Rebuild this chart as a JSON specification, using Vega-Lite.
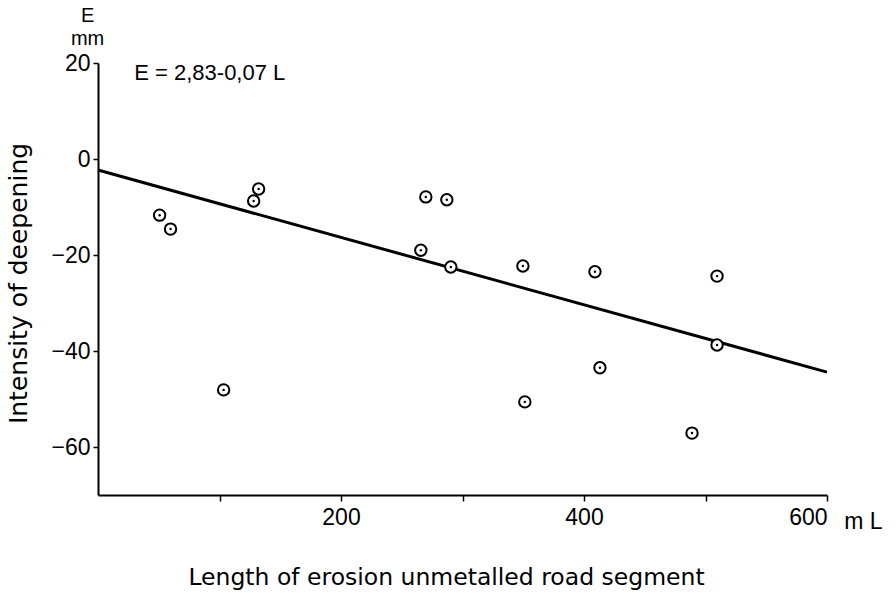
{
  "$schema": "https://vega.github.io/schema/vega-lite/v6.json",
  "autosize": "none",
  "width": 729,
  "height": 432,
  "padding": {"left": 98, "top": 63, "right": 69, "bottom": 98},
  "background": "white",
  "config": {
    "view": {"stroke": null},
    "font": "Liberation Sans",
    "axis": {"grid": false, "domainColor": "black", "tickColor": "black", "labelColor": "black", "titleColor": "black", "domainWidth": 2, "tickWidth": 1.5, "labelFont": "Liberation Sans", "titleFont": "DejaVu Sans", "titleFontWeight": "normal"}
  },
  "datasets": {
    "points": [
      {"L": 50.7, "E": -11.7},
      {"L": 59.7, "E": -14.6},
      {"L": 103.4, "E": -48.1},
      {"L": 128.1, "E": -8.75},
      {"L": 132.2, "E": -6.25},
      {"L": 265.7, "E": -19.0},
      {"L": 269.8, "E": -7.9},
      {"L": 287.1, "E": -8.5},
      {"L": 290.4, "E": -22.5},
      {"L": 349.7, "E": -22.3},
      {"L": 351.3, "E": -50.6},
      {"L": 409.0, "E": -23.5},
      {"L": 413.1, "E": -43.5},
      {"L": 488.9, "E": -57.1},
      {"L": 509.5, "E": -24.4},
      {"L": 509.5, "E": -38.75}
    ],
    "fit": [
      {"L": 0, "E": -2.3},
      {"L": 600, "E": -44.4}
    ],
    "notes": [
      {"label": "E = 2,83-0,07 L", "L": 92, "E": 18}
    ],
    "units": [
      {"label": "E", "L": -8.6, "E": 29.7},
      {"label": "mm", "L": -8.6, "E": 25.1}
    ],
    "unit": [
      {"label": "m L", "L": 630, "E": -75.6}
    ]
  },
  "layer": [
    {
      "data": {"name": "fit"},
      "mark": {"type": "line", "color": "black", "strokeWidth": 3},
      "encoding": {
        "x": {"field": "L", "type": "quantitative", "scale": {"domain": [0, 600], "nice": false, "zero": false},
          "axis": {"values": [100, 200, 300, 400, 500, 600], "labelExpr": "datum.value % 200 == 0 ? datum.label : ''", "tickSize": 6, "labelPadding": 5, "labelFontSize": 23, "title": "Length of erosion unmetalled road segment", "titleFontSize": 23.5, "titleX": 348, "titleY": 82, "titleBaseline": "middle", "titleAlign": "center"}},
        "y": {"field": "E", "type": "quantitative", "scale": {"domain": [-70, 20], "nice": false, "zero": false},
          "axis": {"values": [20, 0, -20, -40, -60], "tickSize": 5, "labelPadding": 3, "labelFontSize": 23, "title": "Intensity of deepening", "titleFontSize": 25, "titleX": -80, "titleY": 220, "titleAngle": 270, "titleBaseline": "middle", "titleAlign": "center"}}
      }
    },
    {
      "data": {"name": "points"},
      "mark": {"type": "point", "shape": "circle", "size": 130, "stroke": "black", "strokeWidth": 2, "fill": "white", "filled": false, "opacity": 1, "fillOpacity": 1},
      "encoding": {
        "x": {"field": "L", "type": "quantitative"},
        "y": {"field": "E", "type": "quantitative"}
      }
    },
    {
      "data": {"name": "points"},
      "mark": {"type": "circle", "size": 6, "color": "black", "opacity": 1},
      "encoding": {
        "x": {"field": "L", "type": "quantitative"},
        "y": {"field": "E", "type": "quantitative"}
      }
    },
    {
      "data": {"name": "notes"},
      "mark": {"type": "text", "fontSize": 22, "align": "center", "baseline": "middle", "color": "black", "font": "Liberation Sans"},
      "encoding": {
        "x": {"field": "L", "type": "quantitative"},
        "y": {"field": "E", "type": "quantitative"},
        "text": {"field": "label"}
      }
    },
    {
      "data": {"name": "units"},
      "mark": {"type": "text", "fontSize": 20, "align": "center", "baseline": "middle", "color": "black", "font": "Liberation Sans"},
      "encoding": {
        "x": {"field": "L", "type": "quantitative"},
        "y": {"field": "E", "type": "quantitative"},
        "text": {"field": "label"}
      }
    },
    {
      "data": {"name": "unit"},
      "mark": {"type": "text", "fontSize": 23, "align": "center", "baseline": "middle", "color": "black", "font": "Liberation Sans"},
      "encoding": {
        "x": {"field": "L", "type": "quantitative"},
        "y": {"field": "E", "type": "quantitative"},
        "text": {"field": "label"}
      }
    }
  ]
}
